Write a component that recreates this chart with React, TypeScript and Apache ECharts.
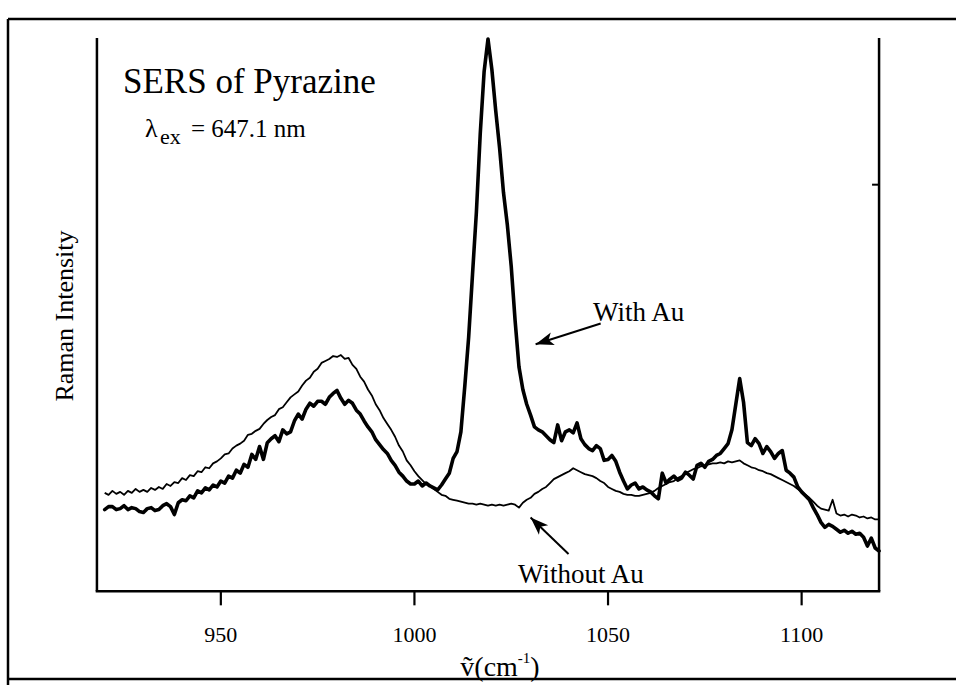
import React, { useEffect, useRef } from "react";
import * as echarts from "echarts";

// Raman shift (cm^-1) sampling
const wavenumbers: number[] = [
  920, 921, 922, 923, 924, 925, 926, 927, 928, 929,
  930, 931, 932, 933, 934, 935, 936, 937, 938, 939,
  940, 941, 942, 943, 944, 945, 946, 947, 948, 949,
  950, 951, 952, 953, 954, 955, 956, 957, 958, 959,
  960, 961, 962, 963, 964, 965, 966, 967, 968, 969,
  970, 971, 972, 973, 974, 975, 976, 977, 978, 979,
  980, 981, 982, 983, 984, 985, 986, 987, 988, 989,
  990, 991, 992, 993, 994, 995, 996, 997, 998, 999,
  1000, 1001, 1002, 1003, 1004, 1005, 1006, 1007, 1008, 1009,
  1010, 1011, 1012, 1013, 1014, 1015, 1016, 1017, 1018, 1019,
  1020, 1021, 1022, 1023, 1024, 1025, 1026, 1027, 1028, 1029,
  1030, 1031, 1032, 1033, 1034, 1035, 1036, 1037, 1038, 1039,
  1040, 1041, 1042, 1043, 1044, 1045, 1046, 1047, 1048, 1049,
  1050, 1051, 1052, 1053, 1054, 1055, 1056, 1057, 1058, 1059,
  1060, 1061, 1062, 1063, 1064, 1065, 1066, 1067, 1068, 1069,
  1070, 1071, 1072, 1073, 1074, 1075, 1076, 1077, 1078, 1079,
  1080, 1081, 1082, 1083, 1084, 1085, 1086, 1087, 1088, 1089,
  1090, 1091, 1092, 1093, 1094, 1095, 1096, 1097, 1098, 1099,
  1100, 1101, 1102, 1103, 1104, 1105, 1106, 1107, 1108, 1109,
  1110, 1111, 1112, 1113, 1114, 1115, 1116, 1117, 1118, 1119,
  1120,
];

// Raman intensity (arbitrary units), SERS with Au
const withAu: number[] = [
  83, 86, 86, 83, 84, 87, 83, 85, 84, 81,
  80, 84, 85, 82, 83, 87, 89, 86, 78, 90,
  93, 92, 97, 95, 102, 100, 105, 103, 108, 106,
  112, 110, 117, 115, 123, 120, 129, 126, 139, 134,
  147, 134, 151, 155, 158, 152, 164, 160, 162, 173,
  180, 175, 185, 191, 188, 193, 193, 190, 197, 201,
  204, 196, 190, 194, 191, 184, 180, 173, 167, 162,
  154, 149, 144, 140, 133, 128, 121, 117, 112, 109,
  109, 112, 107, 110, 107, 105, 103, 108, 114, 120,
  135, 142, 162, 208, 258, 322, 385, 465, 528, 561,
  530, 488, 450, 405, 372, 330, 275, 228, 205, 190,
  179, 167, 164, 162, 158, 154, 151, 169, 153, 162,
  164, 161, 171, 155, 149, 145, 143, 148, 145, 133,
  134, 138, 132, 121, 112, 104, 108, 110, 104, 106,
  103, 101, 97, 94, 120, 110, 114, 117, 113, 115,
  121, 118, 114, 128, 130, 126, 132, 134, 138, 140,
  145, 150, 164, 190, 216, 192, 151, 148, 155, 150,
  140, 147, 142, 135, 140, 143, 123, 120, 116, 106,
  101, 97, 93, 85, 78, 70, 65, 68, 66, 63,
  60, 62, 59, 61, 58, 59, 55, 46, 54, 44,
  41,
];

// Raman intensity (arbitrary units), without Au
const withoutAu: number[] = [
  100, 98, 102, 99, 101, 98, 102, 100, 104, 101,
  103, 101, 105, 103, 106, 104, 109, 107, 111, 110,
  115, 113, 118, 117, 122, 121, 126, 125, 130, 132,
  135, 139, 140, 145, 148, 150, 153, 159, 160, 163,
  165, 170, 174, 177, 179, 185, 187, 192, 197, 200,
  203, 209, 214, 217, 223, 226, 232, 234, 236, 239,
  238, 240, 236, 237, 230, 226, 218, 213, 205, 199,
  190, 184, 176, 170, 164, 157, 148, 142, 133, 128,
  122, 117, 113, 109, 107, 104, 101, 98, 97, 94,
  93, 92, 91, 90, 89, 89, 88, 89, 88, 87,
  88, 87, 88, 87, 88, 89, 88, 85, 90, 93,
  95, 99, 101, 104, 106, 110, 114, 116, 118, 120,
  122, 125, 123, 121, 119, 118, 117, 115, 112, 110,
  106, 104, 102, 101, 99, 98, 98, 97, 97, 98,
  99, 100, 102, 105, 107, 109, 111, 112, 115, 117,
  120, 122, 124, 125, 127, 128, 129, 130, 130, 131,
  130, 132, 131, 132, 133, 130, 128, 126, 125, 123,
  122, 120, 119, 117, 115, 113, 111, 109, 107, 104,
  101, 98, 95, 91, 87, 84, 83, 82, 93, 79,
  77, 78, 76, 78, 77, 75, 76, 74, 75, 73,
  73,
];

// tick positions
const xTicks: number[] = [950, 1000, 1050, 1100];
const rightTicks: number[] = [413];

// plot frame extents (data units)
const X_LEFT = 918;
const X_RIGHT = 1120;
const Y_BASE = 0;
const Y_TOP = 562;

// annotation arrows, [start, tip] in data coordinates
const arrowWithAu: number[][] = [[1048.1, 272], [1031.3, 251]];
const arrowWithoutAu: number[][] = [[1039.8, 38], [1030.0, 75]];

const FONT = "'Liberation Serif', 'Times New Roman', serif";

export default function App() {
  const ref = useRef<HTMLDivElement>(null);

  useEffect(() => {
    document.body.style.margin = "0";
    if (!ref.current) return;
    const chart = echarts.init(ref.current, undefined, { renderer: "svg" });

    const withData = wavenumbers.map((x, i) => [x, withAu[i]]);
    const withoutData = wavenumbers.map((x, i) => [x, withoutAu[i]]);

    const option: any = {
      animation: false,
      backgroundColor: "#ffffff",
      // the grid reaches a little past the frame so the frame and the
      // outward ticks are drawn inside it
      grid: { left: 95, right: 75, top: 36, bottom: 70, containLabel: false },
      xAxis: {
        type: "value",
        min: 917.5,
        max: 1120.5,
        axisLine: { show: false, onZero: false },
        axisTick: { show: false },
        axisLabel: {
          customValues: xTicks,
          formatter: (v: number) => String(v),
          margin: 17,
          fontSize: 22,
          color: "#000",
          fontFamily: FONT,
        },
        splitLine: { show: false },
        name: "{a|ṽ(cm}{s|-1}{a|)}",
        nameLocation: "middle",
        nameGap: 31,
        nameTextStyle: {
          padding: [0, 0, 0, 24],
          rich: {
            a: { fontSize: 28, fontFamily: FONT, color: "#000", lineHeight: 30, verticalAlign: "bottom" },
            s: { fontSize: 15, fontFamily: FONT, color: "#000", lineHeight: 30, verticalAlign: "top", padding: [0, 0, 12, 0] },
          },
        },
      },
      yAxis: {
        type: "value",
        min: -15,
        max: 564,
        axisLine: { show: false },
        axisTick: { show: false },
        axisLabel: { show: false },
        splitLine: { show: false },
      },
      series: [
        {
          type: "line",
          name: "With Au",
          data: withData,
          symbol: "none",
          z: 3,
          lineStyle: { color: "#000", width: 3.6, join: "round", cap: "round" },
          markLine: {
            silent: true,
            symbol: ["none", "arrow"],
            symbolSize: [10, 18],
            label: { show: false },
            lineStyle: { color: "#000", width: 2, type: "solid" },
            emphasis: { disabled: true },
            data: [
              [{ coord: arrowWithAu[0] }, { coord: arrowWithAu[1] }],
              [{ coord: arrowWithoutAu[0] }, { coord: arrowWithoutAu[1] }],
            ],
          },
        },
        {
          type: "line",
          name: "Without Au",
          data: withoutData,
          symbol: "none",
          z: 2,
          lineStyle: { color: "#000", width: 1.8, join: "round" },
        },
        {
          // axis frame (left, bottom, right) with its ticks, placed through the scales
          type: "custom",
          name: "frame",
          data: [[X_LEFT, Y_BASE]],
          clip: false,
          silent: true,
          z: 10,
          renderItem: (_params: any, api: any) => {
            const bl = api.coord([X_LEFT, Y_BASE]);
            const br = api.coord([X_RIGHT, Y_BASE]);
            const tl = api.coord([X_LEFT, Y_TOP]);
            const tr = api.coord([X_RIGHT, Y_TOP]);
            const children: any[] = [
              { type: "rect", shape: { x: bl[0] - 1.25, y: bl[1] - 1.25, width: br[0] - bl[0] + 2.5, height: 2.5 }, style: { fill: "#000" } },
              { type: "rect", shape: { x: tl[0] - 1.25, y: tl[1], width: 2.5, height: bl[1] - tl[1] }, style: { fill: "#000" } },
              { type: "rect", shape: { x: tr[0] - 1.25, y: tr[1], width: 2.5, height: br[1] - tr[1] }, style: { fill: "#000" } },
            ];
            xTicks.forEach((v) => {
              const p = api.coord([v, Y_BASE]);
              children.push({ type: "rect", shape: { x: p[0] - 1.1, y: p[1], width: 2.2, height: 14 }, style: { fill: "#000" } });
            });
            rightTicks.forEach((v) => {
              const p = api.coord([X_RIGHT, v]);
              children.push({ type: "rect", shape: { x: p[0] - 7, y: p[1] - 1, width: 7, height: 2 }, style: { fill: "#000" } });
            });
            return { type: "group", children };
          },
        },
      ],
      graphic: [
        { type: "line", shape: { x1: 8, y1: 19, x2: 956, y2: 19 }, style: { stroke: "#000", lineWidth: 2.5 } },
        { type: "line", shape: { x1: 8, y1: 19, x2: 8, y2: 685 }, style: { stroke: "#000", lineWidth: 2.5 } },
        { type: "line", shape: { x1: 8, y1: 679, x2: 956, y2: 679 }, style: { stroke: "#000", lineWidth: 2.5 } },
        {
          type: "text", x: 123, y: 81,
          style: { text: "SERS of Pyrazine", fontSize: 35, fontFamily: FONT, fill: "#000", verticalAlign: "middle", align: "left" },
        },
        {
          type: "text", x: 145, y: 128,
          style: { text: "λ", fontSize: 26, fontFamily: FONT, fill: "#000", verticalAlign: "middle" },
        },
        {
          type: "text", x: 160, y: 136,
          style: { text: "ex", fontSize: 22, fontFamily: FONT, fill: "#000", verticalAlign: "middle" },
        },
        {
          type: "text", x: 191, y: 128,
          style: { text: "= 647.1 nm", fontSize: 25, fontFamily: FONT, fill: "#000", verticalAlign: "middle" },
        },
        {
          type: "text", x: 64, y: 316, rotation: Math.PI / 2,
          style: { text: "Raman Intensity", fontSize: 26, fontFamily: FONT, fill: "#000", align: "center", verticalAlign: "middle" },
        },
        {
          type: "text", x: 593, y: 312,
          style: { text: "With Au", fontSize: 27, fontFamily: FONT, fill: "#000", verticalAlign: "middle" },
        },
        {
          type: "text", x: 518, y: 574,
          style: { text: "Without Au", fontSize: 27, fontFamily: FONT, fill: "#000", verticalAlign: "middle" },
        },
      ],
    };

    chart.setOption(option);
    return () => chart.dispose();
  }, []);

  return <div ref={ref} style={{ width: 956, height: 685 }} />;
}
